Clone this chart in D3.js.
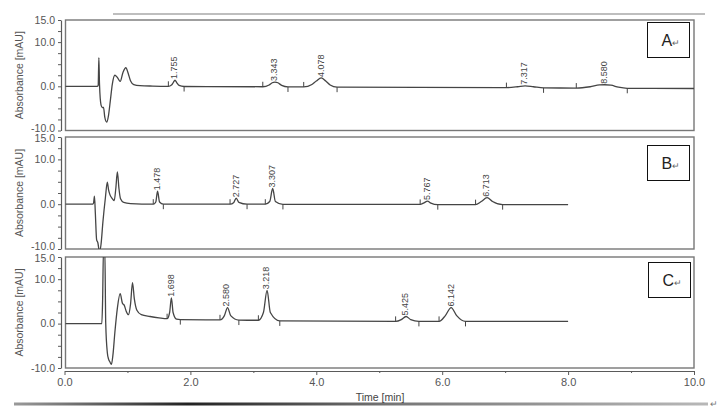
<!DOCTYPE html>
<html><head><meta charset="utf-8">
<script src="https://cdn.jsdelivr.net/npm/d3@7"></script>
<style>body{margin:0;background:#fff}svg{display:block}text{font-family:Arial,"Liberation Sans",sans-serif}</style>
</head><body><svg id="c" width="723" height="411"></svg>
<script>
// ---- data ----
const panelNames = ["A", "B", "C"];
const yTickValues = [15, 12.5, 10, 7.5, 5, 2.5, 0, -2.5, -5, -7.5, -10];
const yTickLabels = {"15": "15.0", "10": "10.0", "0": "0.0", "-10": "-10.0"};
const xTickValues = [0, 1, 2, 3, 4, 5, 6, 7, 8, 9, 10];
const xTickLabels = {"0": "0.0", "2": "2.0", "4": "4.0", "6": "6.0", "8": "8.0", "10": "10.0"};

// chromatogram traces [time (min), absorbance (mAU)]
const traceA = [[0,0],[0.52,0],[0.535,0.2],[0.546,6.5],[0.556,0.5],[0.58,-4.2],[0.6,-4.8],[0.62,-4.8],[0.64,-7],[0.67,-8.1],[0.7,-6.5],[0.73,-3],[0.76,0.5],[0.8,2.5],[0.84,2.0],[0.885,1.1],[0.93,3.2],[0.975,4.2],[1.01,3.0],[1.05,1.2],[1.1,0.4],[1.2,0.15],[1.4,0.05],[1.65,0],[1.7,0.3],[1.73,0.9],[1.755,1.4],[1.78,0.9],[1.82,0.2],[1.9,-0.05],[3.15,-0.1],[3.25,0.3],[3.3,0.8],[3.343,0.95],[3.39,0.8],[3.45,0.2],[3.55,-0.15],[3.8,-0.15],[3.93,0.4],[4.0,1.2],[4.078,1.9],[4.15,1.2],[4.22,0.3],[4.33,-0.2],[7.02,-0.3],[7.2,-0.1],[7.317,0.1],[7.45,-0.1],[7.61,-0.35],[8.13,-0.4],[8.35,-0.1],[8.5,0.3],[8.58,0.35],[8.68,0.25],[8.8,-0.2],[8.94,-0.45],[10,-0.5]];
const traceB = [[0,0],[0.45,0],[0.462,0.3],[0.476,1.8],[0.49,-2],[0.51,-7.9],[0.53,-8.6],[0.555,-10.6],[0.58,-9],[0.61,-4],[0.65,1.5],[0.68,4.9],[0.7,3.2],[0.72,2.2],[0.75,1.4],[0.79,0.8],[0.815,3.5],[0.84,7.2],[0.865,3.5],[0.89,1.2],[0.94,0.4],[1.05,0.15],[1.41,0],[1.45,0.5],[1.478,2.9],[1.51,0.5],[1.57,0],[2.63,0],[2.69,0.4],[2.727,1.35],[2.77,0.4],[2.9,0],[3.19,0],[3.26,0.6],[3.307,3.5],[3.35,0.6],[3.47,-0.05],[5.65,-0.05],[5.71,0.3],[5.767,0.7],[5.82,0.25],[5.93,-0.1],[6.53,-0.1],[6.62,0.6],[6.713,1.45],[6.8,0.6],[6.96,-0.1],[8,-0.1]];
const traceC = [[0,0],[0.593,0],[0.605,5],[0.62,17],[0.64,17],[0.655,0],[0.68,-6.5],[0.7,-8],[0.72,-8.6],[0.745,-9.2],[0.77,-7],[0.8,-2],[0.84,3.5],[0.884,6.75],[0.92,4.6],[0.95,4.1],[0.98,2.8],[1.016,2.0],[1.05,4.5],[1.08,9.2],[1.11,5.5],[1.15,3.0],[1.22,2.0],[1.36,1.6],[1.5,1.3],[1.63,1.1],[1.67,2.5],[1.698,5.8],[1.725,2.5],[1.78,1.0],[1.84,0.9],[2.47,0.85],[2.54,1.8],[2.59,3.6],[2.64,1.8],[2.77,0.8],[3.08,0.75],[3.16,2.5],[3.218,7.5],[3.27,2.5],[3.42,0.6],[5.26,0.5],[5.35,0.9],[5.425,1.6],[5.5,0.9],[5.63,0.5],[5.95,0.5],[6.05,1.8],[6.142,3.6],[6.23,1.8],[6.37,0.5],[8,0.5]];
const traces = [traceA, traceB, traceC];

// labelled peaks: retention time, apex value, label
const peakTimesA = [1.755, 3.343, 4.078, 7.317, 8.580];
const peakApexA  = [1.4, 0.95, 1.9, 0.1, 0.35];
const peakTimesB = [1.478, 2.727, 3.307, 5.767, 6.713];
const peakApexB  = [2.9, 1.35, 3.5, 0.7, 1.45];
const peakTimesC = [1.698, 2.580, 3.218, 5.425, 6.142];
const peakApexC  = [5.8, 3.6, 7.5, 1.6, 3.6];
const peakLabelsA = ["1.755", "3.343", "4.078", "7.317", "8.580"];
const peakLabelsB = ["1.478", "2.727", "3.307", "5.767", "6.713"];
const peakLabelsC = ["1.698", "2.580", "3.218", "5.425", "6.142"];

// integration start / end markers [time, baseline value]
const startsA = [[1.65,0],[3.15,-0.1],[3.8,-0.15],[7.02,-0.3],[8.13,-0.4]];
const endsA   = [[1.9,-0.05],[3.55,-0.15],[4.33,-0.2],[7.61,-0.35],[8.94,-0.45]];
const startsB = [[1.41,0],[2.63,0],[3.19,0],[5.65,-0.05],[6.53,-0.1]];
const endsB   = [[1.57,0],[2.9,0],[3.47,-0.05],[5.93,-0.1],[6.96,-0.1]];
const startsC = [[1.63,1.1],[2.47,0.85],[3.08,0.75],[5.26,0.5],[5.95,0.5]];
const endsC   = [[1.84,0.9],[2.77,0.8],[3.42,0.6],[5.63,0.5],[6.37,0.5]];

const peakTimes = [peakTimesA, peakTimesB, peakTimesC];
const peakApex = [peakApexA, peakApexB, peakApexC];
const peakLabels = [peakLabelsA, peakLabelsB, peakLabelsC];
const starts = [startsA, startsB, startsC];
const ends = [endsA, endsB, endsC];

const yLabel = "Absorbance [mAU]";
const xLabel = "Time [min]";

// ---- layout ----
const svg = d3.select("#c");
const panelTop = [20, 137, 257];
const panelBot = [130.5, 249, 368];
const x = d3.scaleLinear().domain([0, 10]).range([64.5, 694]);
const axisColor = "#5a5a5a";
const lineColor = "#454545";
const defs = svg.append("defs");

// top faint rule
svg.append("line").attr("x1", 113).attr("x2", 705).attr("y1", 14).attr("y2", 14)
  .attr("stroke", "#a8a8a8").attr("stroke-width", 1.5);

// bottom thick rule with gradient
const grad = defs.append("linearGradient").attr("id", "bg").attr("x1", "0%").attr("x2", "100%");
grad.append("stop").attr("offset", "0%").attr("stop-color", "#9a9a9a");
grad.append("stop").attr("offset", "25%").attr("stop-color", "#222");
grad.append("stop").attr("offset", "55%").attr("stop-color", "#777");
grad.append("stop").attr("offset", "100%").attr("stop-color", "#b8b8b8");
svg.append("rect").attr("x", 14).attr("y", 402.5).attr("width", 694).attr("height", 3).attr("fill", "url(#bg)");
svg.append("text").attr("x", 710).attr("y", 407).attr("font-size", 9).attr("fill", "#777").text("↵");

panelNames.forEach((name, i) => {
  const y = d3.scaleLinear().domain([-10, 15]).range([panelBot[i], panelTop[i]]);
  const g = svg.append("g");
  const cid = "clip" + i;
  defs.append("clipPath").attr("id", cid).append("rect")
    .attr("x", 65.5).attr("y", panelTop[i]).attr("width", 628.5).attr("height", panelBot[i] - panelTop[i]);

  // frame
  g.append("rect").attr("x", 65.5).attr("y", panelTop[i]).attr("width", 628.5)
    .attr("height", panelBot[i] - panelTop[i]).attr("fill", "none")
    .attr("stroke", "#777").attr("stroke-width", 1.4);

  // y axis
  const ya = g.append("g").attr("transform", "translate(61,0)")
    .call(d3.axisLeft(y).tickValues(yTickValues).tickSize(3).tickSizeOuter(0).tickPadding(3)
      .tickFormat(d => yTickLabels[String(d)] || ""));
  ya.select(".domain").attr("stroke", axisColor).attr("stroke-width", 1.2);
  ya.selectAll(".tick line").attr("stroke", axisColor);
  ya.selectAll("text").attr("font-size", 10.5).attr("fill", "#555")
    .attr("font-family", "Arial, 'Liberation Sans', sans-serif")
    .attr("transform", d => d === 15 && i > 0 ? "translate(0,1.5)" : (d === -10 && i < 2 ? "translate(0,-2.5)" : null));

  // y label
  g.append("text").attr("transform", `translate(20,${(panelTop[i] + panelBot[i]) / 2}) rotate(-90)`)
    .attr("text-anchor", "middle").attr("dominant-baseline", "middle")
    .attr("font-size", 10.5).attr("fill", "#555").text(yLabel);

  // trace
  const line = d3.line().x(d => x(d[0])).y(d => y(d[1])).curve(d3.curveMonotoneX);
  g.append("path").datum(traces[i]).attr("clip-path", `url(#${cid})`)
    .attr("d", line).attr("fill", "none").attr("stroke", lineColor).attr("stroke-width", 1.3);

  // integration markers
  g.selectAll(".ms").data(starts[i]).join("line")
    .attr("x1", d => x(d[0])).attr("x2", d => x(d[0]))
    .attr("y1", d => y(d[1])).attr("y2", d => y(d[1]) - 5)
    .attr("stroke", lineColor).attr("stroke-width", 1);
  g.selectAll(".me").data(ends[i]).join("line")
    .attr("x1", d => x(d[0])).attr("x2", d => x(d[0]))
    .attr("y1", d => y(d[1])).attr("y2", d => y(d[1]) + 5)
    .attr("stroke", lineColor).attr("stroke-width", 1);

  // peak labels
  peakTimes[i].forEach((t, k) => {
    g.append("text")
      .attr("transform", `translate(${x(t)},${y(peakApex[i][k]) - 1}) rotate(-90)`)
      .attr("dominant-baseline", "middle").attr("text-anchor", "start")
      .attr("font-size", 9).attr("fill", "#444").text(peakLabels[i][k]);
  });

  // panel tag box
  const bx = [647.5, 647.5, 648.5][i], by = [22.5, 145.5, 262.5][i];
  g.append("rect").attr("x", bx).attr("y", by).attr("width", 42).attr("height", 35)
    .attr("fill", "#fff").attr("stroke", "#111").attr("stroke-width", 1);
  const tt = g.append("text").attr("x", bx + 14).attr("y", by + 23.5)
    .attr("font-size", 16).attr("fill", "#222");
  tt.append("tspan").text(name);
  tt.append("tspan").attr("font-size", 9).attr("fill", "#666").text("↵");

  // x axis on bottom panel
  if (i === 2) {
    const xa = g.append("g").attr("transform", "translate(0,371)")
      .call(d3.axisBottom(x).tickValues(xTickValues).tickSize(4).tickSizeOuter(0).tickPadding(3)
        .tickFormat(d => xTickLabels[String(d)] || ""));
    xa.select(".domain").attr("stroke", axisColor).attr("stroke-width", 1.2);
    xa.selectAll(".tick line").attr("stroke", axisColor)
      .attr("y2", d => xTickLabels[String(d)] ? 4 : 2);
    xa.selectAll("text").attr("font-size", 11).attr("fill", "#555")
      .attr("font-family", "Arial, 'Liberation Sans', sans-serif");
    g.append("text").attr("x", 380).attr("y", 401).attr("text-anchor", "middle")
      .attr("font-size", 10.5).attr("fill", "#444").text(xLabel);
  }
});
</script></body></html>
